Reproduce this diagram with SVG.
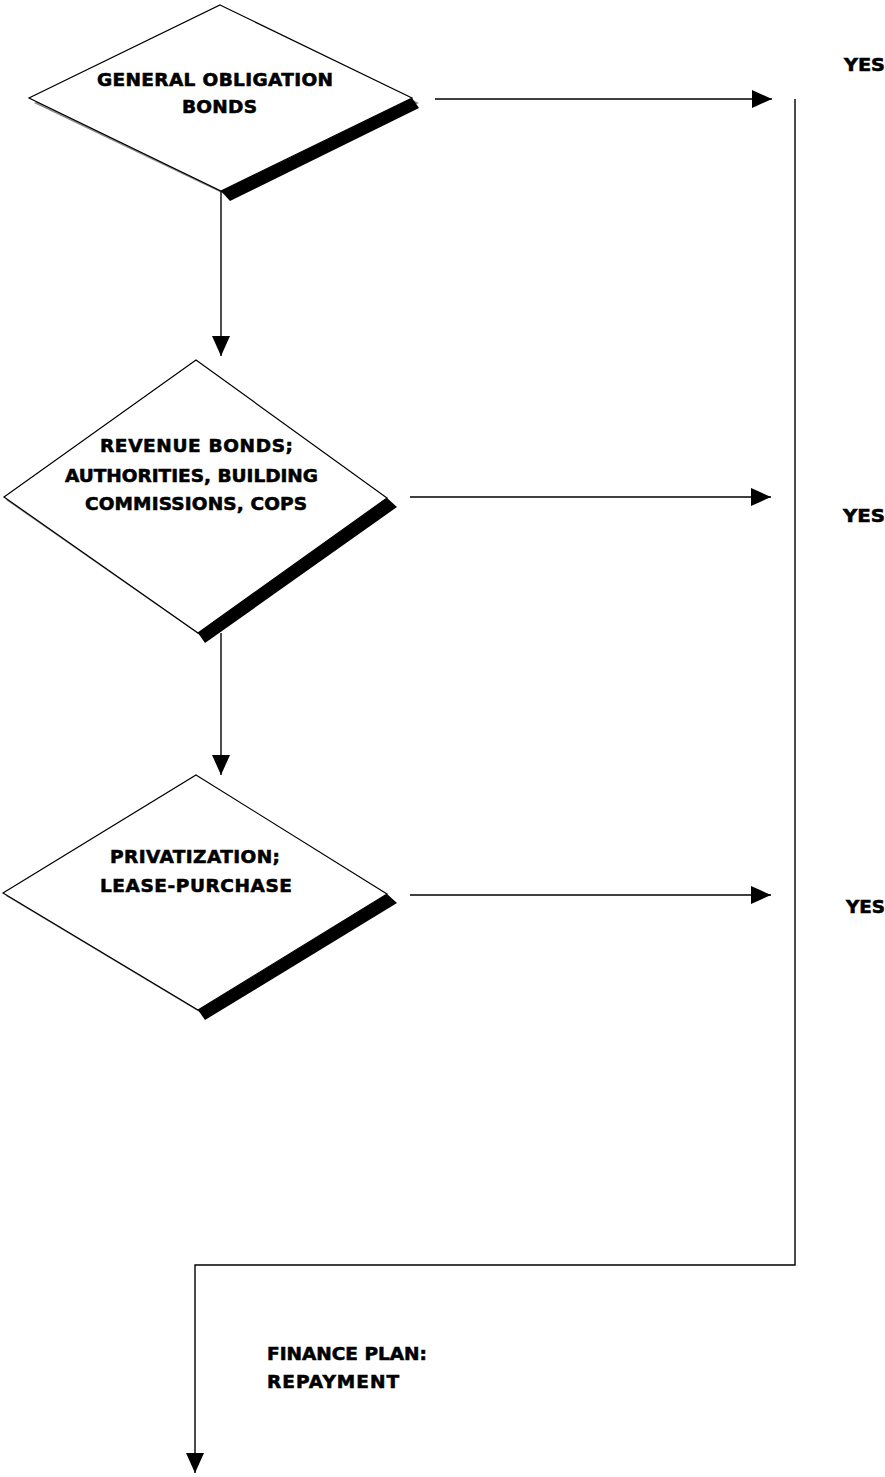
<svg xmlns="http://www.w3.org/2000/svg" width="885" height="1477" viewBox="0 0 885 1477">
  <defs>
    <style>
      .bg { fill: #ffffff; }
      .shade { fill: #8a8a8a; }
      .band { fill: #000000; }
      .dia { fill: #ffffff; stroke: #000000; stroke-width: 1.2; stroke-linejoin: miter; }
      .lbl { font-family: "DejaVu Sans", "Liberation Sans", Arial, sans-serif; font-weight: bold; font-size: 18.5px; fill: #000000; stroke: #000000; stroke-width: 0.6; }
      .wire { fill: none; stroke: #000000; stroke-width: 1.4; }
    </style>
    <marker id="head" viewBox="0 0 20 18" refX="20" refY="9" markerWidth="20" markerHeight="18" markerUnits="userSpaceOnUse" orient="auto">
      <path d="M0,0 L20,9 L0,18 Z" fill="#000000"/>
    </marker>
  </defs>

  <rect class="bg" x="0" y="0" width="885" height="1477"/>

  <!-- decision: general obligation bonds -->
  <g id="node-go-bonds">
    <polygon class="shade" points="227,10 419,103 228,196 34,103"/>
    <polygon class="band" points="412,98 419,108 230,201 221,191"/>
    <polygon class="dia" points="220,5 412,98 221,191 29,98"/>
    <text class="lbl" x="97" y="86" textLength="236" lengthAdjust="spacing">GENERAL OBLIGATION</text>
    <text class="lbl" x="182" y="113" textLength="75" lengthAdjust="spacing">BONDS</text>
  </g>

  <!-- decision: revenue bonds -->
  <g id="node-revenue-bonds">
    <polygon class="shade" points="199,363 390,501 201,636 6,500"/>
    <polygon class="band" points="387,498 397,507 205,643 198,633"/>
    <polygon class="dia" points="196,360 387,498 198,633 4,497"/>
    <text class="lbl" x="100" y="452" textLength="193" lengthAdjust="spacing">REVENUE BONDS;</text>
    <text class="lbl" x="65" y="482" textLength="253" lengthAdjust="spacing">AUTHORITIES, BUILDING</text>
    <text class="lbl" x="85" y="510" textLength="222" lengthAdjust="spacing">COMMISSIONS, COPS</text>
  </g>

  <!-- decision: privatization / lease-purchase -->
  <g id="node-privatization">
    <polygon class="shade" points="199,778 390,897 201,1013 6,896"/>
    <polygon class="band" points="387,894 397,903 205,1020 198,1010"/>
    <polygon class="dia" points="196,775 387,894 198,1010 3,893"/>
    <text class="lbl" x="110" y="863" textLength="170" lengthAdjust="spacing">PRIVATIZATION;</text>
    <text class="lbl" x="100" y="892" textLength="192" lengthAdjust="spacing">LEASE-PURCHASE</text>
  </g>

  <!-- outcome labels -->
  <g id="label-yes-1">
    <text class="lbl" x="844" y="71" textLength="41" lengthAdjust="spacingAndGlyphs">YES</text>
  </g>
  <g id="label-yes-2">
    <text class="lbl" x="843" y="522" textLength="42" lengthAdjust="spacingAndGlyphs">YES</text>
  </g>
  <g id="label-yes-3">
    <text class="lbl" x="846" y="913" textLength="39" lengthAdjust="spacingAndGlyphs">YES</text>
  </g>
  <g id="label-finance-plan">
    <text class="lbl" x="267" y="1360" textLength="160" lengthAdjust="spacing">FINANCE PLAN:</text>
    <text class="lbl" x="267" y="1388" textLength="132" lengthAdjust="spacing">REPAYMENT</text>
  </g>

  <!-- connectors -->
  <g id="connectors">
    <line class="wire" x1="221" y1="191" x2="221" y2="356" marker-end="url(#head)"/>
    <line class="wire" x1="221" y1="633" x2="221" y2="775" marker-end="url(#head)"/>
    <line class="wire" x1="435" y1="99" x2="772" y2="99" marker-end="url(#head)"/>
    <line class="wire" x1="410" y1="497" x2="771" y2="497" marker-end="url(#head)"/>
    <line class="wire" x1="410" y1="895" x2="771" y2="895" marker-end="url(#head)"/>
    <polyline class="wire" points="795,99 795,1265 195,1265 195,1473" marker-end="url(#head)"/>
  </g>
</svg>
